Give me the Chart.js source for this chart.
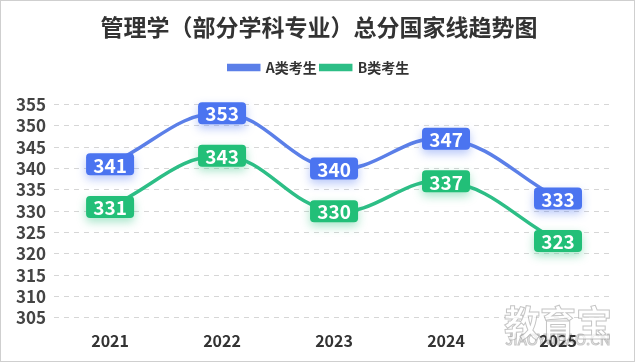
<!DOCTYPE html>
<html>
<head>
<meta charset="utf-8">
<script src="https://cdn.jsdelivr.net/npm/chart.js@4.4.1/dist/chart.umd.min.js"></script>
<style>
  html, body { margin: 0; padding: 0; background: #fff; }
  #wrap { width: 633px; height: 360px; border: 1px solid #cfcfcf; position: relative; }
  canvas { display: block; }
</style>
</head>
<body>
<div id="wrap"><canvas id="chart" width="633" height="360"></canvas></div>
<script>
const years = ['2021', '2022', '2023', '2024', '2025'];
const scoresA = [341, 353, 340, 347, 333];
const scoresB = [331, 343, 330, 337, 323];
const yTicks = [305, 310, 315, 320, 325, 330, 335, 340, 345, 350, 355];

const FONT = '"Noto Sans CJK SC", "Noto Sans", sans-serif';
const blue = '#5B7FE8';
const blueBox = '#4B74F0';
const green = '#2DBE86';
const greenBox = '#22BF78';

// rounded value boxes drawn on top of each point
const valueBoxes = {
    id: 'valueBoxes',
    afterDatasetsDraw(chart) {
        const ctx = chart.ctx;
        chart.data.datasets.forEach((ds, i) => {
            const meta = chart.getDatasetMeta(i);
            meta.data.forEach((pt, j) => {
                const w = 48, h = 22;
                const x = pt.x - w / 2, y = pt.y - h / 2;
                ctx.save();
                ctx.shadowColor = ds.boxShadow;
                ctx.shadowBlur = 10;
                ctx.shadowOffsetY = 4;
                ctx.fillStyle = ds.boxColor;
                ctx.beginPath();
                ctx.roundRect(x, y, w, h, 4);
                ctx.fill();
                ctx.restore();
                ctx.save();
                ctx.fillStyle = '#fff';
                ctx.font = 'bold 19px ' + FONT;
                ctx.textAlign = 'center';
                ctx.textBaseline = 'middle';
                ctx.fillText(String(ds.data[j]), pt.x, pt.y + 1);
                ctx.restore();
            });
        });
    }
};

// extra room under the legend
const legendGap = {
    id: 'legendGap',
    beforeInit(chart) {
        const fit = chart.legend.fit;
        chart.legend.fit = function () {
            fit.bind(chart.legend)();
            this.height += 20;
        };
    }
};

// faint site watermark in the bottom-right corner
const watermark = {
    id: 'watermark',
    beforeDraw(chart) {
        const ctx = chart.ctx;
        ctx.save();
        ctx.strokeStyle = 'rgba(140,140,140,0.5)';
        ctx.lineWidth = 1;
        ctx.textAlign = 'center';
        ctx.font = '15px ' + FONT;
        ctx.strokeText('JIAOYUBAO.CN', 557, 338);
        ctx.restore();
    },
    beforeDatasetsDraw(chart) {
        const ctx = chart.ctx;
        ctx.save();
        ctx.strokeStyle = 'rgba(140,140,140,0.5)';
        ctx.fillStyle = 'rgba(255,255,255,0.7)';
        ctx.lineWidth = 1;
        ctx.textAlign = 'center';
        ctx.font = 'bold 36px ' + FONT;
        ctx.fillText('教育宝', 557, 322);
        ctx.strokeText('教育宝', 557, 322);
        ctx.restore();
    }
};

new Chart(document.getElementById('chart'), {
    type: 'line',
    data: {
        labels: years,
        datasets: [{
            label: 'A类考生',
            data: scoresA,
            borderColor: blue,
            backgroundColor: blue,
            boxColor: blueBox,
            boxShadow: 'rgba(75,116,240,0.4)',
            borderWidth: 3.5,
            tension: 0.4,
            pointRadius: 0
        }, {
            label: 'B类考生',
            data: scoresB,
            borderColor: green,
            backgroundColor: green,
            boxColor: greenBox,
            boxShadow: 'rgba(34,191,120,0.4)',
            borderWidth: 3.5,
            tension: 0.4,
            pointRadius: 0
        }]
    },
    options: {
        responsive: false,
        animation: false,
        layout: { padding: { left: 7, right: 4, top: 6, bottom: 4 } },
        plugins: {
            title: {
                display: true,
                text: '管理学（部分学科专业）总分国家线趋势图',
                color: '#333',
                font: { family: FONT, size: 23, weight: 'bold' },
                padding: { top: 6, bottom: 16 }
            },
            legend: {
                labels: {
                    color: '#333',
                    boxWidth: 30,
                    boxHeight: 4,
                    padding: 4,
                    font: { family: FONT, size: 14, weight: 'bold' }
                }
            },
            tooltip: { enabled: false }
        },
        scales: {
            x: {
                offset: true,
                grid: { display: false },
                border: { display: false },
                ticks: { color: '#333', font: { family: FONT, size: 16, weight: 'bold' }, padding: 6 }
            },
            y: {
                min: 305,
                max: 355,
                afterBuildTicks(axis) { axis.ticks = yTicks.map(v => ({ value: v })); },
                grid: { color: '#d6d6d6', drawTicks: false },
                border: { display: false, dash: [5, 5] },
                ticks: {
                    autoSkip: false,
                    color: '#444',
                    font: { family: FONT, size: 17, weight: 'bold' },
                    padding: 8
                }
            },
            // empty spacer on the right so the plot ends where the reference does
            yRight: {
                position: 'right',
                min: 305,
                max: 355,
                grid: { display: false },
                border: { display: false },
                ticks: { display: false },
                afterFit(axis) { axis.width = 16; }
            }
        }
    },
    plugins: [valueBoxes, legendGap, watermark]
});
</script>
</body>
</html>
